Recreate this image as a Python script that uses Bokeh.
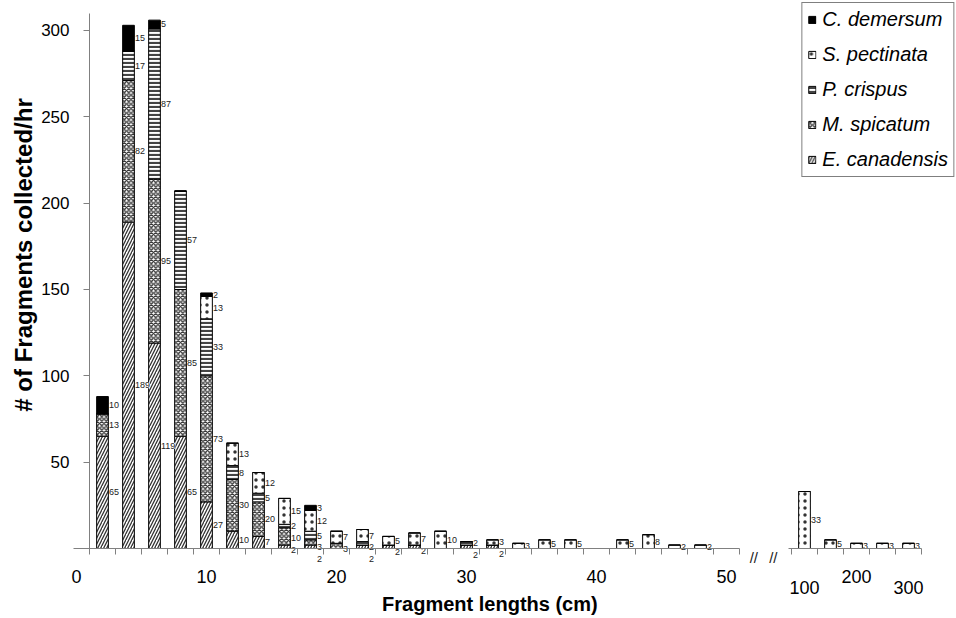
import math
from bokeh.plotting import figure
from bokeh.models import (Range1d, FixedTicker, Label, ColumnDataSource,
                          Legend, LegendItem)
from bokeh.core.properties import value
from bokeh.layouts import row
from bokeh.embed import file_html
from bokeh.resources import INLINE

# ---------------- data ----------------
series_keys = ["e_can", "m_spi", "p_cri", "s_pec", "c_dem"]
series_names = ["E. canadensis", "M. spicatum", "P. crispus", "S. pectinata", "C. demersum"]

lengths_short = [2, 4, 6, 8, 10, 12, 14, 16, 18, 20, 22, 24, 26, 28, 30, 32, 34, 36, 38, 40, 42, 44, 46, 48]
e_can_short = [65, 189, 119, 65, 27, 10, 7, 2, 2, 0, 2, 2, 2, 0, 2, 2, 0, 0, 0, 0, 0, 0, 0, 0]
m_spi_short = [13, 82, 95, 85, 73, 30, 20, 10, 3, 3, 0, 0, 0, 0, 0, 0, 0, 0, 0, 0, 0, 0, 0, 0]
p_cri_short = [0, 17, 87, 57, 33, 8, 5, 2, 5, 0, 2, 0, 0, 0, 2, 0, 0, 0, 0, 0, 0, 0, 0, 0]
s_pec_short = [0, 0, 0, 0, 13, 13, 12, 15, 12, 7, 7, 5, 7, 10, 0, 3, 3, 5, 5, 0, 5, 8, 2, 2]
c_dem_short = [10, 15, 5, 0, 2, 0, 0, 0, 3, 0, 0, 0, 0, 0, 0, 0, 0, 0, 0, 0, 0, 0, 0, 0]

lengths_long = [100, 150, 200, 250, 300]
e_can_long = [0, 0, 0, 0, 0]
m_spi_long = [0, 0, 0, 0, 0]
p_cri_long = [0, 0, 0, 0, 0]
s_pec_long = [33, 5, 3, 3, 3]
c_dem_long = [0, 0, 0, 0, 0]

x_ticks_short = [0, 10, 20, 30, 40, 50]
x_ticks_long = [100, 200, 300]
y_ticks = [0, 50, 100, 150, 200, 250, 300]

x_title = "Fragment lengths (cm)"
y_title = "# of Fragments collected/hr"

# ---------------- styling ----------------
FONT = "Liberation Sans"
AXIS_GREY = "#808080"
fills = ["white", "white", "white", "white", "black"]
hatches = ["/", "x", "-", ".", " "]
hatch_colors = ["#333333", "#333333", "#444444", "#333333", "black"]
hatch_scales = [6.0, 4.5, 4.0, 7.0, 6.0]
hatch_weights = [1.3, 1.3, 2.2, 0.8, 1.0]
BAR_W = 0.9


def long_pos(L):
    # axis break: 100..300 cm compressed onto the segment after the break
    return 56 + (L - 100) / 25.0


def label_rows(xs, cols):
    lx, ly, lt = [], [], []
    for i, x in enumerate(xs):
        base = 0
        segs = []
        for c in cols:
            v = c[i]
            if v > 0:
                segs.append((base + v / 2.0, v))
            base += v
        prev = None
        for mid, v in reversed(segs):
            y = mid
            if prev is not None and prev - y < 6.8:
                y = prev - 6.8
            prev = y
            lx.append(x)
            ly.append(y)
            lt.append(str(v))
    return dict(x=lx, y=ly, text=lt)


pos_short = list(lengths_short)
pos_long = [long_pos(L) for L in lengths_long]

src_short = ColumnDataSource(dict(x=pos_short, e_can=e_can_short, m_spi=m_spi_short,
                                  p_cri=p_cri_short, s_pec=s_pec_short, c_dem=c_dem_short))
src_long = ColumnDataSource(dict(x=pos_long, e_can=e_can_long, m_spi=m_spi_long,
                                 p_cri=p_cri_long, s_pec=s_pec_long, c_dem=c_dem_long))

# ---------------- geometry ----------------
PX_X = 13.0          # px per x unit
PX_Y = 1.7267        # px per count
H = 616
BASE_PX = 548        # pixel row of count 0
LEFT_W = 745
RIGHT_W = 211
X0_PX = 76           # pixel of position 0

y_range = Range1d(-(H - BASE_PX) / PX_Y, BASE_PX / PX_Y)
x1_start = -X0_PX / PX_X
x1_end = (LEFT_W - X0_PX) / PX_X
x2_end = x1_end + RIGHT_W / PX_X


def style_common(p):
    p.outline_line_color = None
    p.xgrid.visible = False
    p.ygrid.visible = False
    p.background_fill_color = "white"
    p.border_fill_color = "white"


def add_bars(p, src):
    return p.vbar_stack(series_keys, x="x", width=BAR_W, source=src,
                        fill_color=fills, line_color="black", line_width=1,
                        hatch_pattern=hatches, hatch_color=hatch_colors,
                        hatch_scale=hatch_scales, hatch_weight=hatch_weights)


def add_value_labels(p, xs, cols):
    lab = ColumnDataSource(label_rows(xs, cols))
    # text glyph added after the bars so it is painted on top of them
    p.text(x="x", y="y", text="text", source=lab, x_offset=6.5,
           text_align="left", text_baseline="middle",
           text_font=value(FONT), text_font_size="9px", text_color="#222222",
           background_fill_color="white")


def style_xaxis(ax):
    ax.fixed_location = 0
    ax.axis_line_color = AXIS_GREY
    ax.major_tick_out = 6
    ax.major_tick_in = 0
    ax.major_tick_line_color = None
    ax.minor_tick_out = 6
    ax.minor_tick_in = 0
    ax.minor_tick_line_color = AXIS_GREY
    ax.major_label_text_font = FONT
    ax.major_label_text_font_size = "18px"
    ax.major_label_text_color = "black"
    ax.major_label_standoff = 15


# ---------------- left segment (0-50 cm) ----------------
p1 = figure(width=LEFT_W, height=H, x_range=Range1d(x1_start, x1_end), y_range=y_range,
            output_backend="svg", toolbar_location=None,
            min_border_left=0, min_border_right=0, min_border_top=0, min_border_bottom=0)
style_common(p1)
add_bars(p1, src_short)
add_value_labels(p1, pos_short, [e_can_short, m_spi_short, p_cri_short, s_pec_short, c_dem_short])

ax = p1.xaxis[0]
style_xaxis(ax)
ax.ticker = FixedTicker(ticks=x_ticks_short, minor_ticks=list(range(1, 52, 2)))
ax.bounds = (-0.23, 51)

ay = p1.yaxis[0]
ay.fixed_location = 1
ay.ticker = FixedTicker(ticks=y_ticks, minor_ticks=[])
ay.bounds = (0, 310)
ay.major_label_overrides = {0: ""}
ay.axis_line_color = AXIS_GREY
ay.major_tick_out = 6
ay.major_tick_in = 0
ay.major_tick_line_color = AXIS_GREY
ay.minor_tick_line_color = None
ay.major_label_text_font = FONT
ay.major_label_text_font_size = "17px"
ay.major_label_text_color = "black"
ay.major_label_standoff = 14

# axis titles
p1.add_layout(Label(x=-4.1, y=170, text=y_title, angle=math.pi / 2,
                    text_align="center", text_baseline="middle",
                    text_font=FONT, text_font_size="24px", text_font_style="bold",
                    text_color="black"))
p1.add_layout(Label(x=31.8, y=0, y_offset=-55, text=x_title,
                    text_align="center", text_baseline="middle",
                    text_font=FONT, text_font_size="20px", text_font_style="bold",
                    text_color="black"))

# ---------------- right segment (100-300 cm) ----------------
p2 = figure(width=RIGHT_W, height=H, x_range=Range1d(x1_end, x2_end), y_range=y_range,
            output_backend="svg", toolbar_location=None, y_axis_location=None,
            min_border_left=0, min_border_right=0, min_border_top=0, min_border_bottom=0)
style_common(p2)
rs = add_bars(p2, src_long)
add_value_labels(p2, pos_long, [e_can_long, m_spi_long, p_cri_long, s_pec_long, c_dem_long])

bx = p2.xaxis[0]
style_xaxis(bx)
mid_tick = long_pos(x_ticks_long[1])
bx.ticker = FixedTicker(ticks=[mid_tick], minor_ticks=list(range(55, 66, 2)))
bx.major_label_overrides = {mid_tick: str(x_ticks_long[1])}
bx.bounds = (54.8, 65)

for t in (x_ticks_long[0], x_ticks_long[2]):
    p2.add_layout(Label(x=long_pos(t), y=0, y_offset=-39, text=str(t),
                        text_align="center", text_baseline="middle",
                        text_font=FONT, text_font_size="18px", text_color="black"))

# axis break marks
for bx_pos in (52.1, 53.6):
    p2.add_layout(Label(x=bx_pos, y=0, y_offset=-9, text="//",
                        text_align="center", text_baseline="middle",
                        text_font=FONT, text_font_size="15px", text_color="#222222"))

items = [LegendItem(label=series_names[i], renderers=[rs[i]]) for i in range(4, -1, -1)]
legend = Legend(items=items, location="top_right", margin=2, padding=5, spacing=12,
                glyph_width=9, glyph_height=9, label_height=20, label_standoff=6,
                label_text_font=FONT, label_text_font_size="20px",
                label_text_font_style="italic", label_text_color="black",
                border_line_color="black", border_line_width=1,
                background_fill_color="white", background_fill_alpha=1.0)
p2.add_layout(legend)

layout = row(p1, p2, spacing=0)
open("out.html", "w").write(file_html(layout, INLINE))
